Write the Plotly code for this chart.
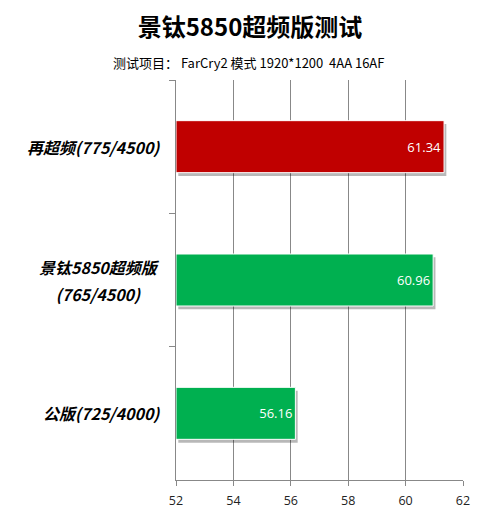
import plotly.graph_objects as go

categories = ["再超频(775/4500)", "景钛5850超频版<br>(765/4500)", "公版(725/4000)"]
values = [61.34, 60.96, 56.16]
colors = ["#C00000", "#00B050", "#00B050"]
x_ticks = [52, 54, 56, 58, 60, 62]
axis_base = 52

title_text = "景钛5850超频版测试"
subtitle_text = "测试项目： FarCry2 模式 1920*1200  4AA 16AF"

cjk = "Noto Sans CJK SC, Microsoft YaHei, sans-serif"

fig = go.Figure()

# shadow
fig.add_trace(go.Bar(
    y=categories, x=[v - axis_base for v in values], base=axis_base + 0.08,
    orientation="h", width=0.39, offset=-0.195 + 0.025,
    marker=dict(color="rgba(0,0,0,0.28)", line=dict(width=0)),
    hoverinfo="skip", showlegend=False,
))

fig.add_trace(go.Bar(
    y=categories, x=[v - axis_base for v in values], base=axis_base,
    orientation="h", width=0.39, offset=-0.195,
    marker=dict(color=colors, line=dict(color="white", width=1)),
    text=[f"{v:.2f}" for v in values], textposition="inside",
    insidetextanchor="end",
    textfont=dict(color="white", size=13, family="Segoe UI, Open Sans, sans-serif"),
    showlegend=False,
))

# category labels (centered multi-line, wider line spacing)
label_annotations = []
for cat in categories:
    lines = cat.split("<br>")
    txt = "<br>".join(f"<span style='font-size:16px'>{ln}</span>" for ln in lines)
    label_annotations.append(dict(
        text=txt, xref="paper", yref="y", x=0, y=cat,
        xanchor="right", yanchor="middle", xshift=-14, align="center",
        showarrow=False,
        font=dict(family=cjk, size=21, color="black", weight="bold", style="italic"),
    ))

fig.update_layout(
    width=500, height=516,
    margin=dict(l=176, r=37, t=80, b=36),
    paper_bgcolor="white", plot_bgcolor="white",
    barmode="overlay",
    title=dict(text=title_text, x=0.5, xanchor="center", y=1 - 28 / 516, yanchor="middle",
               font=dict(family=cjk, size=24, color="black", weight="bold")),
    annotations=[dict(text=subtitle_text, xref="paper", yref="paper",
                      x=(248 - 176) / 287, y=1.0, xanchor="center", yanchor="middle",
                      yshift=18, showarrow=False,
                      font=dict(family=cjk, size=13, color="black"))] + label_annotations,
)

fig.update_xaxes(
    range=[52, 62], tickvals=x_ticks, showgrid=True, gridcolor="#888888", gridwidth=1,
    showline=True, linecolor="#888888", linewidth=1,
    ticks="outside", ticklen=5, tickcolor="#888888", ticklabelstandoff=4,
    tickfont=dict(family="Segoe UI, Open Sans, sans-serif", size=12.5, color="#222222"),
    zeroline=False, automargin=False,
)
fig.update_yaxes(
    categoryorder="array", categoryarray=categories, autorange="reversed",
    showline=True, linecolor="#888888", linewidth=1,
    ticks="outside", tickson="boundaries", ticklen=6, tickcolor="#888888",
    showticklabels=False, automargin=False,
    showgrid=False,
)

fig.write_html("out.html", post_script="document.body.style.margin='0';",
               config={"displayModeBar": False})
